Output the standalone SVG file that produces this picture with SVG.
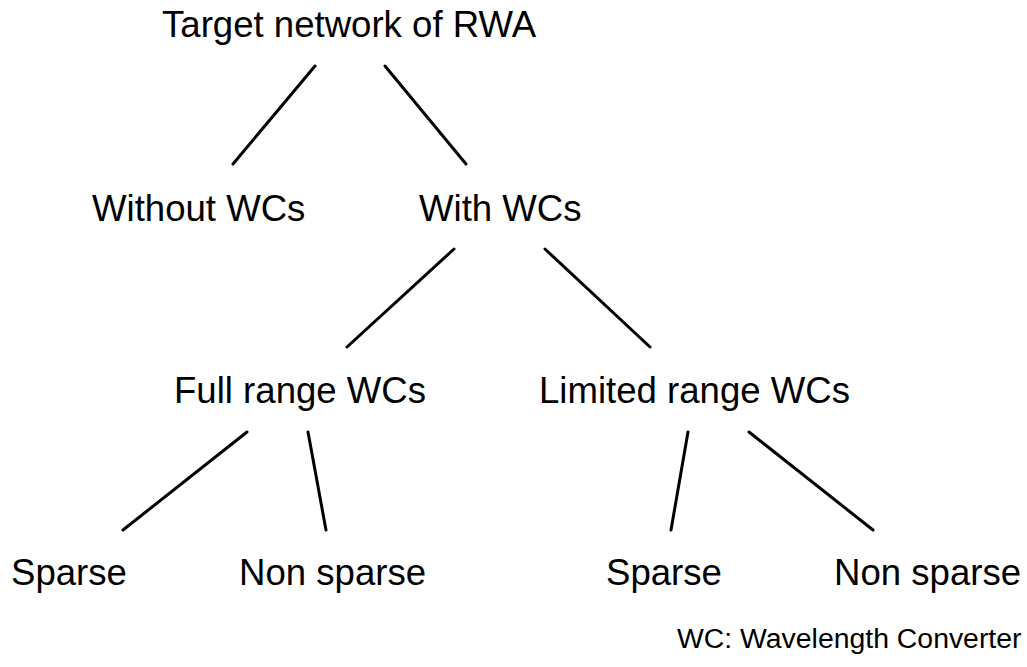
<svg xmlns="http://www.w3.org/2000/svg" width="1027" height="667" viewBox="0 0 1027 667">
  <style>
    .label { font-family: "Liberation Sans", Arial, Helvetica, sans-serif; font-size: 36.6px; fill: #000; }
    .note { font-family: "Liberation Sans", Arial, Helvetica, sans-serif; font-size: 28.4px; fill: #000; }
    .edge { stroke: #000; stroke-width: 3; stroke-linecap: round; fill: none; }
  </style>
  <rect width="1027" height="667" fill="#fff"/>

  <!-- tree edges -->
  <g id="connectors">
    <line class="edge" x1="315" y1="66" x2="233" y2="164"/>
    <line class="edge" x1="385" y1="66" x2="466" y2="164"/>
    <line class="edge" x1="454" y1="249" x2="347" y2="347"/>
    <line class="edge" x1="545" y1="249" x2="650" y2="347"/>
    <line class="edge" x1="247" y1="432" x2="123" y2="530"/>
    <line class="edge" x1="308" y1="432" x2="326" y2="530"/>
    <line class="edge" x1="688" y1="432" x2="671" y2="530"/>
    <line class="edge" x1="749" y1="432" x2="873" y2="530"/>
  </g>

  <!-- tree nodes -->
  <g id="root"><text class="label" x="162" y="37">Target network of RWA</text></g>
  <g id="without-wc"><text class="label" x="92" y="221">Without WCs</text></g>
  <g id="with-wc"><text class="label" x="419" y="221">With WCs</text></g>
  <g id="full-range"><text class="label" x="174" y="403">Full range WCs</text></g>
  <g id="limited-range"><text class="label" x="539" y="403">Limited range WCs</text></g>
  <g id="full-sparse"><text class="label" x="11" y="585">Sparse</text></g>
  <g id="full-nonsparse"><text class="label" x="239" y="585">Non sparse</text></g>
  <g id="limited-sparse"><text class="label" x="606" y="585">Sparse</text></g>
  <g id="limited-nonsparse"><text class="label" x="834" y="585">Non sparse</text></g>

  <!-- abbreviation note -->
  <g id="legend"><text class="note" x="677" y="648">WC: Wavelength Converter</text></g>
</svg>
